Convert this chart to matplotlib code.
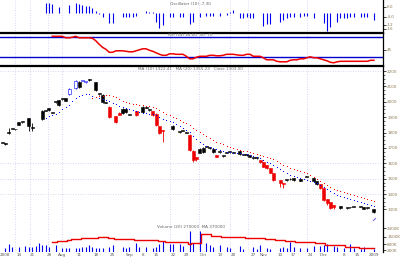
import numpy as np
import matplotlib
matplotlib.use("Agg")
import matplotlib.pyplot as plt

nan = np.nan

# daily bars (index 0..111), nan = no bar drawn
bar_open = [
    1732, 1725, 1800, 1823, 1820, 1849, 1868, nan, 1842, 1830,
    nan, nan, 1885, 1940, 1948, 1927, 1998, 1979, 2017, 2005,
    2050, nan, 2089, 2095, 2135, 2128, 2141, nan, 2076, 2050,
    1998, 1995, 1966, nan, 1907, 1930, 1925, 1935, 1914, nan,
    1940, nan, 1935, 1960, 1946, 1940, 1920, 1842, 1816, nan,
    nan, 1823, nan, 1803, 1810, 1797, 1784, 1680, 1641, 1670,
    1673, 1706, 1699, 1673, 1654, 1673, 1647, 1667, 1673, 1670,
    nan, 1660, 1654, 1652, 1641, 1634, 1634, 1621, 1608, 1589,
    1569, 1537, nan, 1491, 1472, 1491, 1495, 1491, nan, 1488,
    nan, 1511, nan, 1485, 1465, 1465, 1439, 1368, 1348, 1329,
    nan, 1309, nan, 1309, 1313, 1316, nan, 1316, 1303, 1309,
    nan, 1283,
]
bar_high = [
    1735, 1729, 1829, 1826, 1823, 1871, 1871, nan, 1897, 1862,
    nan, nan, 1946, 1943, 1962, 1930, 2001, 2014, 2020, 2027,
    2089, nan, 2141, 2135, 2138, 2131, 2150, nan, 2130, 2053,
    2050, 1998, 1970, nan, 1910, 1933, 1959, 1960, 1917, nan,
    1943, nan, 1972, 1963, 1949, 1943, 1925, 1845, 1816, nan,
    nan, 1849, nan, 1806, 1813, 1805, 1790, 1684, 1641, 1699,
    1703, 1709, 1702, 1696, 1657, 1676, 1650, 1670, 1676, 1673,
    nan, 1683, 1657, 1663, 1657, 1637, 1637, 1624, 1611, 1592,
    1572, 1540, nan, 1491, 1472, 1494, 1503, 1507, nan, 1498,
    nan, 1514, nan, 1507, 1488, 1468, 1442, 1371, 1351, 1329,
    nan, 1325, nan, 1312, 1316, 1319, nan, 1319, 1319, 1312,
    nan, 1306,
]
bar_low = [
    1729, 1722, 1790, 1820, 1817, 1846, 1865, nan, 1810, 1810,
    nan, nan, 1881, 1937, 1940, 1924, 1995, 1975, 2014, 2002,
    2044, nan, 2085, 2089, 2132, 2125, 2138, nan, 2070, 2047,
    1992, 1992, 1895, nan, 1862, 1912, 1920, 1930, 1911, nan,
    1910, nan, 1930, 1957, 1943, 1910, 1845, 1790, 1738, nan,
    nan, 1816, nan, 1800, 1807, 1795, 1680, 1608, 1615, 1665,
    1670, 1703, 1696, 1670, 1638, 1670, 1644, 1664, 1670, 1667,
    nan, 1657, 1651, 1649, 1638, 1631, 1631, 1605, 1573, 1566,
    1534, 1488, nan, 1446, 1439, 1488, 1492, 1488, nan, 1485,
    nan, 1508, nan, 1482, 1462, 1436, 1358, 1329, 1306, 1306,
    nan, 1306, nan, 1306, 1310, 1313, nan, 1313, 1300, 1306,
    nan, 1280,
]
bar_close = [
    1732, 1725, 1805, 1823, 1821, 1868, 1868, nan, 1894, 1836,
    nan, nan, 1940, 1940, 1958, 1927, 1998, 2011, 2017, 2024,
    2085, nan, 2135, 2128, 2135, 2128, 2145, nan, 2128, 2050,
    2044, 1995, 1901, nan, 1868, 1915, 1950, 1955, 1914, nan,
    1914, nan, 1966, 1960, 1946, 1914, 1849, 1797, 1810, nan,
    nan, 1842, nan, 1803, 1810, 1800, 1686, 1621, 1628, 1690,
    1699, 1706, 1699, 1693, 1641, 1673, 1647, 1667, 1673, 1670,
    nan, 1680, 1654, 1660, 1654, 1634, 1634, 1608, 1576, 1569,
    1537, 1491, nan, 1472, 1465, 1491, 1500, 1504, nan, 1495,
    nan, 1511, nan, 1504, 1485, 1439, 1361, 1342, 1309, 1316,
    nan, 1322, nan, 1309, 1313, 1316, nan, 1316, 1316, 1309,
    nan, 1303,
]
highlight_bars = [20, 22, 24, 25]

# volume in thousands of shares
volume = [
    0, 370, 770, 530, 0, 530, 0, 600, 470, 530,
    630, 870, 700, 700, 530, 0, 700, 0, 370, 430,
    430, 0, 370, 430, 470, 530, 700, 470, 430, 430,
    370, 0, 530, 700, 0, 0, 470, 370, 470, 0,
    870, 530, 0, 530, 0, 370, 470, 770, 1100, 0,
    770, 770, 0, 770, 630, 0, 2130, 870, 0, 2130,
    0, 930, 700, 470, 0, 700, 0, 530, 370, 0,
    0, 600, 270, 0, 0, 470, 270, 700, 0, 370,
    270, 0, 0, 370, 530, 370, 1030, 470, 0, 370,
    0, 370, 0, 600, 0, 630, 700, 770, 0, 630,
    470, 0, 370, 0, 770, 370, 0, 300, 530, 0,
    0, 270,
]
# volume moving average, from bar 15
volume_ma = [
    1030, 1030, 1130, 1130, 1130, 1200, 1300, 1300, 1300, 1370,
    1370, 1430, 1430, 1400, 1470, 1470, 1470, 1370, 1370, 1330,
    1300, 1300, 1300, 1300, 1300, 1200, 1200, 1200, 1200, 1200,
    1200, 1200, 1130, 1130, 1030, 1030, 1030, 1000, 1000, 970,
    970, 770, 930, 930, 930, 1800, 1800, 1800, 1600, 1600,
    1600, 1470, 1470, 1470, 1470, 1470, 1470, 1470, 1450, 1420,
    1370, 1370, 1370, 1370, 1270, 1270, 1270, 1200, 1200, 1200,
    1100, 1100, 1100, 1050, 970, 970, 970, 970, 970, 870,
    870, 870, 700, 700, 700, 700, 700, 700, 530, 530,
    530, 530, 370, 370, 370, 370, 370,
]
# short moving average, from bar 13
ma_short = [
    1894, 1907, 1914, 1920, 1933, 1953, 1966, 1979, 2005, 2024,
    2037, 2044, 2050, 2050, 2037, 2031, 2024, 2018, 2011, 2005,
    1992, 1985, 1972, 1966, 1959, 1953, 1946, 1940, 1933, 1927,
    1927, 1920, 1920, 1914, 1901, 1888, 1881, 1875, 1868, 1855,
    1842, 1829, 1816, 1803, 1777, 1758, 1738, 1725, 1712, 1706,
    1699, 1693, 1686, 1680, 1673, 1673, 1667, 1667, 1667, 1660,
    1660, 1654, 1647, 1641, 1634, 1621, 1608, 1602, 1589, 1576,
    1563, 1550, 1537, 1524, 1517, 1511, 1504, 1498, 1491, 1485,
    1478, 1472, 1459, 1446, 1433, 1420, 1407, 1394, 1387, 1381,
    1374, 1368, 1361, 1355, 1348, 1342, 1335, 1329, 1322,
]
# long moving average, from bar 27
ma_long = [
    2024, 2031, 2037, 2037, 2044, 2044, 2037, 2031, 2018, 2005,
    1998, 1992, 1985, 1985, 1979, 1979, 1972, 1972, 1966, 1959,
    1946, 1933, 1920, 1914, 1901, 1894, 1881, 1868, 1862, 1849,
    1829, 1816, 1803, 1790, 1777, 1764, 1751, 1738, 1732, 1725,
    1712, 1706, 1699, 1693, 1686, 1680, 1680, 1673, 1667, 1660,
    1654, 1647, 1641, 1634, 1628, 1615, 1602, 1589, 1582, 1569,
    1563, 1556, 1550, 1543, 1537, 1524, 1511, 1498, 1485, 1472,
    1459, 1446, 1433, 1426, 1420, 1413, 1407, 1400, 1394, 1387,
    1381, 1374, 1368, 1361, 1355,
]
# RSI, from bar 15
rsi = [
    72, 72, 72, 72, 69, 69, 70, 72, 69, 69,
    69, 69, 68, 63, 56, 50, 46, 40, 40, 43,
    43, 43, 42, 41, 41, 43, 45, 47, 47, 44,
    42, 39, 36, 34, 34, 37, 37, 36, 36, 36,
    32, 27, 27, 30, 32, 32, 32, 34, 34, 33,
    33, 34, 36, 36, 36, 35, 34, 34, 36, 36,
    32, 32, 32, 29, 25, 25, 25, 22, 21, 21,
    21, 24, 25, 25, 27, 27, 29, 31, 29, 29,
    27, 25, 23, 20, 19, 21, 22, 22, 22, 22,
    22, 22, 22, 22, 22, 24, 24,
]
# oscillator histogram
osc = [
    nan, nan, nan, nan, nan, nan, nan, nan, nan, nan,
    nan, nan, nan, 9.5, 9.3, 8.7, nan, 6.0, nan, nan,
    7.7, nan, 10.0, 8.7, 7.7, 6.7, 6.7, 4.3, 2.0, -1.0,
    -4.0, nan, -10.7, -10.7, nan, nan, -4.0, -4.0, -4.0, -4.0,
    -3.3, nan, nan, 1.5, 0.3, 0.3, -9.0, -15.0, -12.3, nan,
    -4.0, -4.0, nan, -4.0, -4.0, nan, -11.3, -9.0, nan, -4.0,
    nan, -3.3, -3.3, -3.3, nan, -3.3, nan, -2.3, 1.0, 2.7,
    nan, -5.7, -5.7, -4.0, -5.7, -5.7, nan, nan, -13.0, -11.3,
    -11.3, nan, nan, -9.7, -7.3, -5.7, -4.0, -4.0, nan, -4.0,
    -3.3, -3.3, nan, -5.7, nan, nan, -10.0, -18.0, -14.0, nan,
    -9.0, -5.7, -5.7, -5.7, -4.0, -4.0, nan, -4.0, -4.0, -4.0,
    nan, -7.3,
]
date_ticks = [1, 5, 9, 14, 18, 23, 28, 33, 38, 42, 46, 51, 55,
              60, 65, 69, 75, 78, 83, 87, 92, 96, 102, 106, 111]
date_labels = ["2008", "14", "21", "28", "Aug", "11", "18", "25", "Sep",
               "8", "15", "22", "29", "Oct", "13", "20", "27", "Nov",
               "10", "17", "24", "Dec", "8", "15", "2009"]
month_grid = [3.9, 8.4, 13.7, 17.9, 50.1, 58.8, 68.0, 73.4, 91.0]

o = np.array(bar_open, float)
h = np.array(bar_high, float)
lo = np.array(bar_low, float)
c = np.array(bar_close, float)
idx = np.arange(len(c))

W, H = 400, 257
fig = plt.figure(figsize=(W / 100, H / 100), dpi=100)


def panel(top, bottom):
    return fig.add_axes([0, 1 - bottom / H, 383 / W, (bottom - top) / H])


ax_osc = panel(0, 33)
ax_rsi = panel(33, 66)
ax = panel(66, 252)
ax_vol = ax.twinx()

tick_col = "#8c7b55"
grid_kw = dict(color="#c9c9ec", linewidth=0.6, linestyle=(0, (1, 2)), zorder=0)

for a in (ax_osc, ax_rsi, ax, ax_vol):
    a.set_xlim(-0.6, 113.7)
    for s in ("left", "bottom", "top"):
        a.spines[s].set_visible(False)
    a.spines["right"].set_linewidth(0.9)
    a.tick_params(axis="y", labelsize=3, colors="black", labelcolor=tick_col,
                  length=2, width=0.5, pad=1, left=False, labelleft=False,
                  right=True, labelright=True)
    a.tick_params(axis="x", bottom=False, labelbottom=False)
    a.set_facecolor("none")
for a in (ax_osc, ax_rsi, ax):
    for g in month_grid:
        a.axvline(g, **grid_kw)
for a in (ax_rsi, ax):
    a.spines["top"].set_visible(True)
    a.spines["top"].set_linewidth(1.6)

# oscillator
ax_osc.set_ylim(-20.3, 12.7)
osc_a = np.array(osc, float)
ok = ~np.isnan(osc_a)
ax_osc.vlines(idx[ok], 0, osc_a[ok], color="#0000ee", linewidth=0.8)
ax_osc.set_yticks([6, -4, -12, -16])
ax_osc.set_yticklabels(["6.0", "-4.0", "-12", "-16"])
ax_osc.text(0.496, 0.88, "Oscillator (10) -7.30", transform=ax_osc.transAxes,
            ha="center", va="center", fontsize=3, color="#666666")

# rsi
ax_rsi.set_ylim(12.6, 78.6)
ax_rsi.axhline(70, color="#0000cc", linewidth=1.0)
ax_rsi.axhline(30, color="#0000cc", linewidth=1.0)
ax_rsi.plot(idx[15:15 + len(rsi)], rsi, color="#ee0000", linewidth=1.1)
ax_rsi.set_yticks([45])
ax_rsi.set_yticklabels(["45"])
ax_rsi.text(0.498, 0.94, "RSI (14) 24.00  30  70", transform=ax_rsi.transAxes,
            ha="center", va="center", fontsize=3, color="#666666")

# price
ax.set_ylim(1023.5, 2232.5)
for g in (2200, 1600, 1500, 1400):
    ax.axhline(g, **grid_kw)
ax.set_yticks(np.arange(1300, 2201, 100))
ax.set_yticks(np.arange(1300, 2201, 25), minor=True)
ax.tick_params(axis="y", which="minor", length=1.2, width=0.4, right=True,
               left=False)

body_w = 0.9
for i in idx:
    if np.isnan(c[i]):
        continue
    bottom = min(o[i], c[i])
    height = max(abs(c[i] - o[i]), 6)
    if i in highlight_bars:
        col = "#0000ff"
        face = "white"
    elif c[i] < o[i]:
        col = "#ee0000"
        face = col
    else:
        col = "black"
        face = col
    ax.vlines(i, lo[i], h[i], color=col, linewidth=0.6, zorder=3)
    ax.bar(i, height, bottom=bottom, width=body_w, color=face, edgecolor=col,
           linewidth=0.4, zorder=4)

ax.plot(idx[13:13 + len(ma_short)], ma_short, linestyle="none", marker="s",
        markersize=0.75, markeredgewidth=0, color="#0000ff", zorder=5)
ax.plot(idx[27:27 + len(ma_long)], ma_long, linestyle="none", marker="s",
        markersize=0.75, markeredgewidth=0, color="#ff0000", zorder=5)
ax.plot([111], [1238], linestyle="none", marker=(2, 0, -45), markersize=3,
        markeredgewidth=0.8, color="#7b68ee")
ax.text(0.496, 0.984, "MA (10) 1322.41   MA (20) 1355.23   Close 1303.00",
        transform=ax.transAxes, ha="center", va="center", fontsize=3,
        color="#666666")

ax.set_xticks(date_ticks)
ax.set_xticklabels(date_labels)
ax.tick_params(axis="x", labelbottom=True, labelsize=3, length=0, pad=0.6,
               labelcolor="#555555")

# volume
ax_vol.set_ylim(0, 18600)
ax_vol.vlines(idx, 0, volume, color="#0000ee", linewidth=0.8)
ax_vol.plot(idx[15:15 + len(volume_ma)], volume_ma, color="#ee0000",
            linewidth=1.0, drawstyle="steps-mid")
ax_vol.set_yticks([2400, 1500, 800, 200])
ax_vol.set_yticklabels(["2400K", "1500K", "800K", "200K"])
ax_vol.spines["right"].set_visible(False)
ax_vol.text(0.498, 0.134, "Volume (20) 270000  MA 370000", transform=ax.transAxes,
            ha="center", va="center", fontsize=3, color="#666666")

fig.savefig("out.png", dpi=100)
